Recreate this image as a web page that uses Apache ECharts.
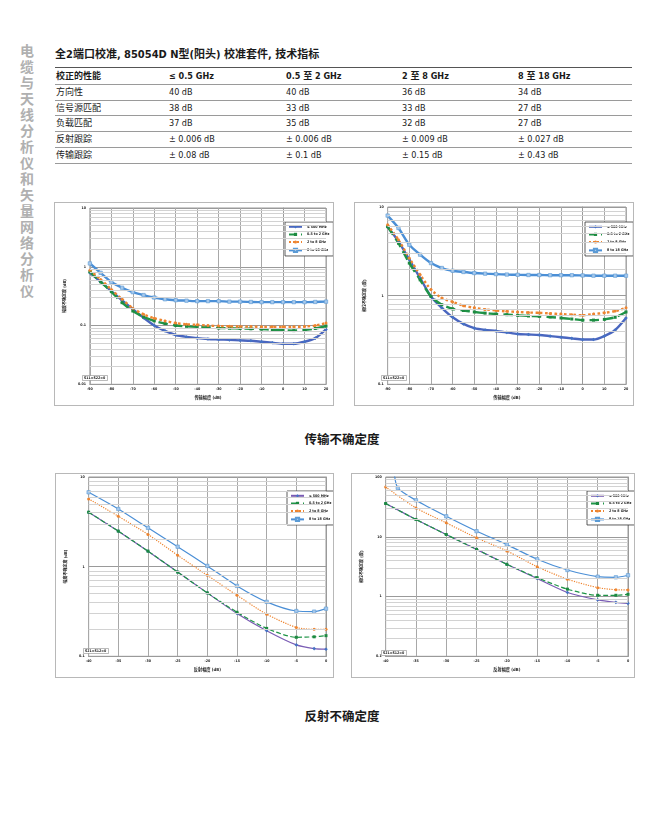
<!DOCTYPE html>
<html>
<head>
<meta charset="utf-8">
<script src="https://cdn.jsdelivr.net/npm/echarts@6/dist/echarts.min.js"></script>
<style>
  body { margin: 0; background: #fff; }
  #page { position: relative; width: 662px; height: 817px; overflow: hidden;
    font-family: 'Liberation Sans Narrow', 'DejaVu Sans Condensed', 'Noto Sans CJK SC', sans-serif; color: #1a1a1a; }
  .side { position: absolute; left: 17px; top: 44px; writing-mode: vertical-rl; font-size: 14px;
    letter-spacing: 2px; color: #b0b0b0; font-weight: bold; font-family: 'Noto Sans CJK SC', sans-serif; }
  .title { position: absolute; left: 55px; top: 45px; font-size: 11px; font-weight: bold; white-space: nowrap; }
  .row { position: absolute; left: 55px; width: 577px; height: 15.8px; border-bottom: 1px solid #9a9a9a;
    font-size: 9px; line-height: 15.8px; box-sizing: border-box; }
  .row span { position: absolute; top: 0; white-space: nowrap; }
  .head { font-weight: bold; }
  .chart { position: absolute; outline: 1px solid #b8b8b8; }
  .cap { position: absolute; left: 0; width: 684px; text-align: center; font-size: 12.5px; font-weight: bold;
    font-family: 'Noto Sans CJK SC', sans-serif; }
</style>
</head>
<body>
<div id="page">
  <div class="side">电缆与天线分析仪和矢量网络分析仪</div>
  <div class="title">全2端口校准, 85054D N型(阳头) 校准套件, 技术指标</div>
  <div id="table"></div>
  <div id="c1" class="chart" style="left:55px;top:203px;width:278px;height:202px"></div>
  <div id="c2" class="chart" style="left:355px;top:203px;width:278px;height:202px"></div>
  <div class="cap" style="top:429px">传输不确定度</div>
  <div id="c3" class="chart" style="left:56px;top:474px;width:277px;height:203px"></div>
  <div id="c4" class="chart" style="left:352px;top:474px;width:282px;height:203px"></div>
  <div class="cap" style="top:706px">反射不确定度</div>
</div>
<script>
// 表格
var tableHead = ['校正的性能', '≤ 0.5 GHz', '0.5 至 2 GHz', '2 至 8 GHz', '8 至 18 GHz'];
var rowNames = ['方向性', '信号源匹配', '负载匹配', '反射跟踪', '传输跟踪'];
var colLe05 = ['40 dB', '38 dB', '37 dB', '± 0.006 dB', '± 0.08 dB'];
var col05to2 = ['40 dB', '33 dB', '35 dB', '± 0.006 dB', '± 0.1 dB'];
var col2to8 = ['36 dB', '33 dB', '32 dB', '± 0.009 dB', '± 0.15 dB'];
var col8to18 = ['34 dB', '27 dB', '27 dB', '± 0.027 dB', '± 0.43 dB'];
var colLeft = [1, 114, 231, 347, 463];

// 图例
var bands = ['≤ 500 MHz', '0.5 to 2 GHz', '2 to 8 GHz', '8 to 18 GHz'];

// 传输幅度不确定度 (dB)
var transX = [-90, -85, -80, -75, -70, -65, -60, -55, -50, -45, -40, -35, -30, -25, -20, -15, -10, -5, 0, 5, 10, 15, 20];
var transMag500 = [0.79, 0.556, 0.386, 0.268, 0.19, 0.136, 0.1, 0.081, 0.069, 0.064, 0.061, 0.059, 0.058, 0.057, 0.056, 0.055, 0.053, 0.051, 0.049, 0.049, 0.053, 0.061, 0.086];
var transMag2 = [0.82, 0.556, 0.377, 0.245, 0.177, 0.14, 0.12, 0.108, 0.1, 0.097, 0.095, 0.093, 0.091, 0.09, 0.089, 0.088, 0.087, 0.085, 0.083, 0.082, 0.084, 0.089, 0.098];
var transMag8 = [0.87, 0.61, 0.41, 0.28, 0.197, 0.155, 0.133, 0.12, 0.11, 0.105, 0.103, 0.1, 0.098, 0.097, 0.096, 0.096, 0.095, 0.095, 0.095, 0.095, 0.096, 0.1, 0.11];
var transMag18 = [1.14, 0.79, 0.55, 0.44, 0.37, 0.33, 0.30, 0.28, 0.27, 0.265, 0.26, 0.26, 0.26, 0.255, 0.255, 0.252, 0.25, 0.25, 0.25, 0.25, 0.25, 0.252, 0.255];

// 传输相位不确定度 (度)
var transPh500 = [6.0, 4.1, 2.55, 1.58, 0.98, 0.73, 0.57, 0.48, 0.43, 0.41, 0.40, 0.385, 0.37, 0.365, 0.36, 0.35, 0.34, 0.33, 0.32, 0.32, 0.35, 0.41, 0.56];
var transPh2 = [6.0, 3.9, 2.33, 1.51, 0.98, 0.79, 0.71, 0.68, 0.655, 0.635, 0.62, 0.61, 0.60, 0.59, 0.585, 0.575, 0.56, 0.545, 0.53, 0.53, 0.54, 0.57, 0.655];
var transPh8 = [6.3, 4.27, 2.65, 1.72, 1.17, 0.94, 0.85, 0.77, 0.73, 0.70, 0.68, 0.665, 0.655, 0.645, 0.64, 0.63, 0.62, 0.61, 0.60, 0.62, 0.64, 0.67, 0.73];
var transPh18 = [8.0, 5.8, 3.75, 2.9, 2.33, 2.05, 1.91, 1.85, 1.8, 1.77, 1.75, 1.73, 1.72, 1.71, 1.71, 1.7, 1.7, 1.7, 1.69, 1.68, 1.68, 1.68, 1.68];

// 反射幅度不确定度 (dB)
var reflX = [-40, -35, -30, -25, -20, -15, -10, -5, -2, 0];
var reflMag500 = [4.05, 2.49, 1.49, 0.87, 0.51, 0.30, 0.193, 0.134, 0.122, 0.12];
var reflMag2 = [4.05, 2.49, 1.49, 0.87, 0.51, 0.31, 0.205, 0.163, 0.165, 0.17];
var reflMag8 = [5.7, 3.65, 2.29, 1.34, 0.80, 0.48, 0.295, 0.21, 0.20, 0.20];
var reflMag18 = [6.75, 4.4, 2.71, 1.67, 1.02, 0.61, 0.405, 0.32, 0.315, 0.34];

// 反射相位不确定度 (度)
var reflPh500 = [36, 19.5, 10.9, 6.15, 3.46, 2.0, 1.17, 0.88, 0.80, 0.77];
var reflPh2 = [36, 19.5, 10.9, 6.15, 3.46, 2.07, 1.33, 1.05, 1.05, 1.09];
var reflPh8 = [68, 30.4, 17.1, 9.6, 5.8, 3.16, 1.95, 1.41, 1.3, 1.29];
var reflPh18X = [-38.6, -38, -35, -30, -25, -20, -15, -10, -5, -2, 0];
var reflPh18 = [120, 66, 40.8, 22, 12.4, 7.4, 4.2, 2.78, 2.15, 2.1, 2.27];

// build table
var rows = [tableHead];
rowNames.forEach(function (n, i) { rows.push([n, colLe05[i], col05to2[i], col2to8[i], col8to18[i]]); });
var tbl = document.getElementById('table');
var topLine = document.createElement('div');
topLine.style.cssText = 'position:absolute;left:55px;top:67px;width:577px;border-top:1.5px solid #555';
tbl.appendChild(topLine);
rows.forEach(function (r, i) {
  var d = document.createElement('div');
  d.className = 'row' + (i === 0 ? ' head' : '');
  d.style.top = (69 + i * 15.8) + 'px';
  r.forEach(function (t, j) {
    var s = document.createElement('span');
    s.textContent = t;
    s.style.left = colLeft[j] + 'px';
    d.appendChild(s);
  });
  tbl.appendChild(d);
});

var FONT = "'Liberation Sans Narrow','DejaVu Sans Condensed','Noto Sans CJK SC',sans-serif";

function pairs(xs, ys) {
  return xs.map(function (x, i) { return [x, ys[i]]; });
}

// 对数轴的次网格线 (2..9 倍)
function minorLines(min, max) {
  var out = [];
  for (var d = min; d < max * 0.99; d *= 10) {
    for (var k = 2; k <= 9; k++) out.push({ yAxis: +(d * k).toPrecision(3) });
  }
  return out;
}

function makeChart(id, cfg) {
  var chart = echarts.init(document.getElementById(id));
  var styles = [
    { line: { color: cfg.c500, width: cfg.lw }, symbol: 'diamond', size: 3.6, item: { color: '#4472c4' } },
    { line: { color: '#1f9447', width: cfg.lw, type: 'dashed' }, symbol: 'rect', size: 3, item: { color: '#1d8a41' } },
    { line: { color: '#ee8530', width: cfg.lw, type: 'dotted' }, symbol: 'circle', size: 3, item: { color: '#ee8530' } },
    { line: { color: '#4b8fd6', width: cfg.lw }, symbol: 'rect', size: 3.4, item: { color: '#a6c8ec', borderColor: '#5b9bd5', borderWidth: 0.6 } }
  ];
  var series = [{
    type: 'line', data: [], silent: true, z: 1,
    markLine: {
      silent: true, symbol: ['none', 'none'], label: { show: false }, animation: false,
      lineStyle: { color: '#d2d2d2', type: 'solid', width: 1 },
      data: minorLines(cfg.ymin, cfg.ymax)
    }
  }];
  cfg.data.forEach(function (d, i) {
    var st = styles[i];
    series.push({
      name: bands[i], type: 'line', data: d, smooth: 0.25,
      symbol: st.symbol, symbolSize: st.size, showAllSymbol: true,
      lineStyle: st.line, itemStyle: st.item, z: 3, animation: false
    });
  });
  chart.setOption({
    animation: false,
    textStyle: { fontFamily: FONT },
    title: {
      text: cfg.note, left: cfg.noteLeft, top: cfg.noteTop, padding: [1, 2],
      borderColor: '#777', borderWidth: 0.5, backgroundColor: '#fff',
      textStyle: { fontSize: 3.6, fontWeight: 'bold', color: '#222', fontFamily: FONT }
    },
    legend: {
      data: bands, orient: 'vertical', left: cfg.legLeft, top: cfg.legTop,
      itemWidth: 13, itemHeight: 4, itemGap: 4, padding: [3, 4, 3, 3],
      borderColor: '#333', borderWidth: 0.8, backgroundColor: '#fff',
      textStyle: { fontSize: 3.6, fontWeight: 'bold', color: '#222' }
    },
    grid: Object.assign({ show: true, borderColor: '#9a9a9a', borderWidth: 1 }, cfg.grid),
    xAxis: {
      type: 'value', min: cfg.xmin, max: cfg.xmax, interval: cfg.xint,
      name: cfg.xname, nameLocation: 'middle', nameGap: 11,
      nameTextStyle: { fontSize: 4.2, fontWeight: 'bold', color: '#222' },
      axisLine: { show: true, lineStyle: { color: '#9a9a9a' } }, axisTick: { show: false },
      axisLabel: { fontSize: 3.6, fontWeight: 'bold', color: '#222', margin: 3 },
      splitLine: { show: true, lineStyle: { color: '#a8a8a8', width: 1 } }
    },
    yAxis: {
      type: 'log', logBase: 10, min: cfg.ymin, max: cfg.ymax,
      name: cfg.yname, nameLocation: 'middle', nameGap: cfg.ygap, nameRotate: 90,
      nameTextStyle: { fontSize: 4, fontWeight: 'bold', color: '#222' },
      axisLine: { show: true, lineStyle: { color: '#9a9a9a' } }, axisTick: { show: false },
      axisLabel: { fontSize: 3.6, fontWeight: 'bold', color: '#222', margin: 4,
        formatter: function (v) { return String(+(+v).toPrecision(2)); } },
      splitLine: { show: true, lineStyle: { color: '#9a9a9a', width: 1 } }
    },
    series: series
  });
  return chart;
}

makeChart('c1', {
  xmin: -90, xmax: 20, xint: 10, ymin: 0.01, ymax: 10, lw: 2.4, c500: '#4a66bf',
  grid: { left: 25, right: 7, top: 5, bottom: 20 },
  xname: '传输幅度 (dB)', yname: '幅度不确定度 (dB)', ygap: 16,
  note: 'S11=S22=0', noteLeft: 27, noteTop: 172, legLeft: 230, legTop: 19,
  data: [pairs(transX, transMag500), pairs(transX, transMag2), pairs(transX, transMag8), pairs(transX, transMag18)]
});
makeChart('c2', {
  xmin: -90, xmax: 20, xint: 10, ymin: 0.1, ymax: 10, lw: 2.4, c500: '#4a66bf',
  grid: { left: 22, right: 7, top: 4, bottom: 20 },
  xname: '传输幅度 (dB)', yname: '相位不确定度 (度)', ygap: 13,
  note: 'S11=S22=0', noteLeft: 26, noteTop: 172, legLeft: 230, legTop: 19,
  data: [pairs(transX, transPh500), pairs(transX, transPh2), pairs(transX, transPh8), pairs(transX, transPh18)]
});
makeChart('c3', {
  xmin: -40, xmax: 0, xint: 5, ymin: 0.1, ymax: 10, lw: 1.2, c500: '#7a5cb4',
  grid: { left: 22, right: 7, top: 3, bottom: 20 },
  xname: '反射幅度 (dB)', yname: '幅度不确定度 (dB)', ygap: 13,
  note: 'S21=S12=0', noteLeft: 27, noteTop: 174, legLeft: 231, legTop: 17,
  data: [pairs(reflX, reflMag500), pairs(reflX, reflMag2), pairs(reflX, reflMag8), pairs(reflX, reflMag18)]
});
makeChart('c4', {
  xmin: -40, xmax: 0, xint: 5, ymin: 0.1, ymax: 100, lw: 1.2, c500: '#7a5cb4',
  grid: { left: 23, right: 6, top: 3, bottom: 20 },
  xname: '反射幅度 (dB)', yname: '相位不确定度 (度)', ygap: 14,
  note: 'S21=S12=0', noteLeft: 29, noteTop: 176, legLeft: 235, legTop: 17,
  data: [pairs(reflX, reflPh500), pairs(reflX, reflPh2), pairs(reflX, reflPh8), pairs(reflPh18X, reflPh18)]
});
</script>
</body>
</html>
